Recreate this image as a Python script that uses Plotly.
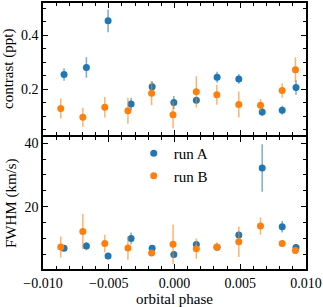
import plotly.graph_objects as go
from plotly.subplots import make_subplots

# Run A (blue)
phase_a = [-0.0084, -0.0067, -0.00505, -0.0033, -0.0017, -0.00005, 0.00166, 0.00324, 0.00489, 0.00667, 0.00819, 0.00924]
contrast_a = [0.255, 0.281, 0.454, 0.146, 0.210, 0.152, 0.160, 0.245, 0.239, 0.116, 0.123, 0.207]
contrast_a_err = [0.023, 0.038, 0.042, 0.023, 0.020, 0.024, 0.012, 0.020, 0.018, 0.015, 0.017, 0.027]
fwhm_a = [6.9, 7.6, 4.5, 10.0, 6.9, 5.0, 8.1, 7.25, 11.1, 32.2, 13.7, 7.2]
fwhm_a_err = [0.6, 1.3, 0.5, 1.9, 0.6, 0.6, 0.9, 0.6, 1.0, 7.5, 1.8, 1.1]

# Run B (orange)
phase_b = [-0.00865, -0.00697, -0.0053, -0.00354, -0.00174, -0.00011, 0.00166, 0.00322, 0.00489, 0.00654, 0.00819, 0.0092]
contrast_b = [0.129, 0.097, 0.134, 0.121, 0.186, 0.106, 0.191, 0.180, 0.144, 0.141, 0.196, 0.273]
contrast_b_err = [0.037, 0.035, 0.038, 0.048, 0.045, 0.050, 0.058, 0.037, 0.048, 0.024, 0.027, 0.046]
fwhm_b = [7.35, 12.2, 8.4, 7.0, 5.4, 8.2, 6.8, 7.35, 9.0, 13.9, 8.4, 6.2]
fwhm_b_err = [3.3, 5.5, 2.8, 3.7, 0.9, 6.2, 3.2, 1.4, 4.8, 2.7, 1.1, 0.6]

BLUE = "#1f77b4"
ORANGE = "#ff7f0e"
BLUE_E = "rgba(31,119,180,0.6)"
ORANGE_E = "rgba(255,127,14,0.6)"
FONT = "Liberation Serif"
TICK_SIZE = 14
TITLE_SIZE = 15

fig = make_subplots(rows=2, cols=1, shared_xaxes=True, vertical_spacing=0.011)

def add(row, x, y, err, color, ecolor, name, show):
    fig.add_trace(go.Scatter(
        x=x, y=y, mode="markers", name=name, showlegend=show,
        marker=dict(color=color, size=7),
        error_y=dict(type="data", array=err, color=ecolor, thickness=1.5, width=0),
    ), row=row, col=1)

add(1, phase_a, contrast_a, contrast_a_err, BLUE, BLUE_E, "run A", False)
add(1, phase_b, contrast_b, contrast_b_err, ORANGE, ORANGE_E, "run B", False)
add(2, phase_a, fwhm_a, fwhm_a_err, BLUE, BLUE_E, "run A", True)
add(2, phase_b, fwhm_b, fwhm_b_err, ORANGE, ORANGE_E, "run B", True)

axis_common = dict(
    showline=True, linecolor="black", linewidth=1.5, mirror="allticks",
    ticks="inside", ticklen=5, tickwidth=1, tickcolor="black",
    showgrid=False, zeroline=False,
    tickfont=dict(family=FONT, size=TICK_SIZE, color="black"),
)

fig.update_xaxes(**axis_common, range=[-0.010, 0.010], dtick=0.005, tick0=0,
                 tickformat=".3f",
                 minor=dict(ticks="inside", ticklen=3, dtick=0.001, tickcolor="black", showgrid=False))
fig.update_xaxes(title=dict(text="orbital phase", font=dict(family=FONT, size=TITLE_SIZE, color="black"), standoff=2), row=2, col=1)

fig.update_yaxes(**axis_common)
fig.update_yaxes(range=[0.033, 0.52], dtick=0.2, tick0=0, tickformat=".1f",
                 minor=dict(ticks="inside", ticklen=3, dtick=0.05, tickcolor="black", showgrid=False),
                 title=dict(text="contrast (ppt)", font=dict(family=FONT, size=TITLE_SIZE, color="black"), standoff=4),
                 row=1, col=1)
fig.update_yaxes(range=[0.4, 41.8], dtick=20, tick0=0,
                 minor=dict(ticks="inside", ticklen=3, dtick=5, tickcolor="black", showgrid=False),
                 title=dict(text="FWHM (km/s)", font=dict(family=FONT, size=TITLE_SIZE, color="black"), standoff=4),
                 row=2, col=1)

fig.update_layout(
    width=323, height=307,
    margin=dict(l=43, r=17, t=1, b=38),
    paper_bgcolor="white", plot_bgcolor="white",
    font=dict(family=FONT, size=TICK_SIZE, color="black"),
    legend=dict(x=0.345, y=0.496, xanchor="left", yanchor="top",
                bgcolor="rgba(0,0,0,0)", font=dict(family=FONT, size=TITLE_SIZE, color="black"),
                tracegroupgap=0),
)

fig.write_html("out.html", config={"displayModeBar": False},
               post_script="document.body.style.margin='0';document.body.style.padding='0';")
